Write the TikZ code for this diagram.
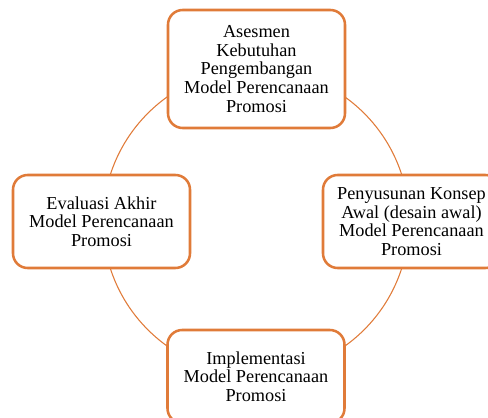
\documentclass[tikz,border=0pt]{standalone}
\usepackage{fontspec}
\setmainfont{Liberation Serif}
\definecolor{orng}{HTML}{E07B39}
\begin{document}
\begin{tikzpicture}[x=0.75pt,y=-0.75pt,
  stagebox/.style={draw=orng, line width=1.9pt, rounded corners=11pt, fill=white,
    minimum width=132.75pt, minimum height=69.75pt, align=center, inner sep=1pt,
    font=\fontsize{13.7}{14}\selectfont},
  tallbox/.style={stagebox, minimum height=88.5pt},
  ring/.style={draw=orng, line width=0.8pt}]
\useasboundingbox (0,0) rectangle (488,417);
\clip (0,0) rectangle (488,417);
\coordinate (c) at (256,221.5);
\draw[ring] (c) circle [radius=114.75pt];
\node[tallbox] (asesmen) at (256.5,69) {Asesmen\\Kebutuhan\\Pengembangan\\Model Perencanaan\\Promosi};
\node[stagebox] (evaluasi) at (101.5,221.5) {Evaluasi Akhir\\Model Perencanaan\\Promosi};
\node[stagebox] (penyusunan) at (411.5,221.5) {Penyusunan Konsep\\Awal (desain awal)\\Model Perencanaan\\Promosi};
\node[stagebox] (implementasi) at (256,376.5) {Implementasi\\Model Perencanaan\\Promosi};
\end{tikzpicture}
\end{document}
